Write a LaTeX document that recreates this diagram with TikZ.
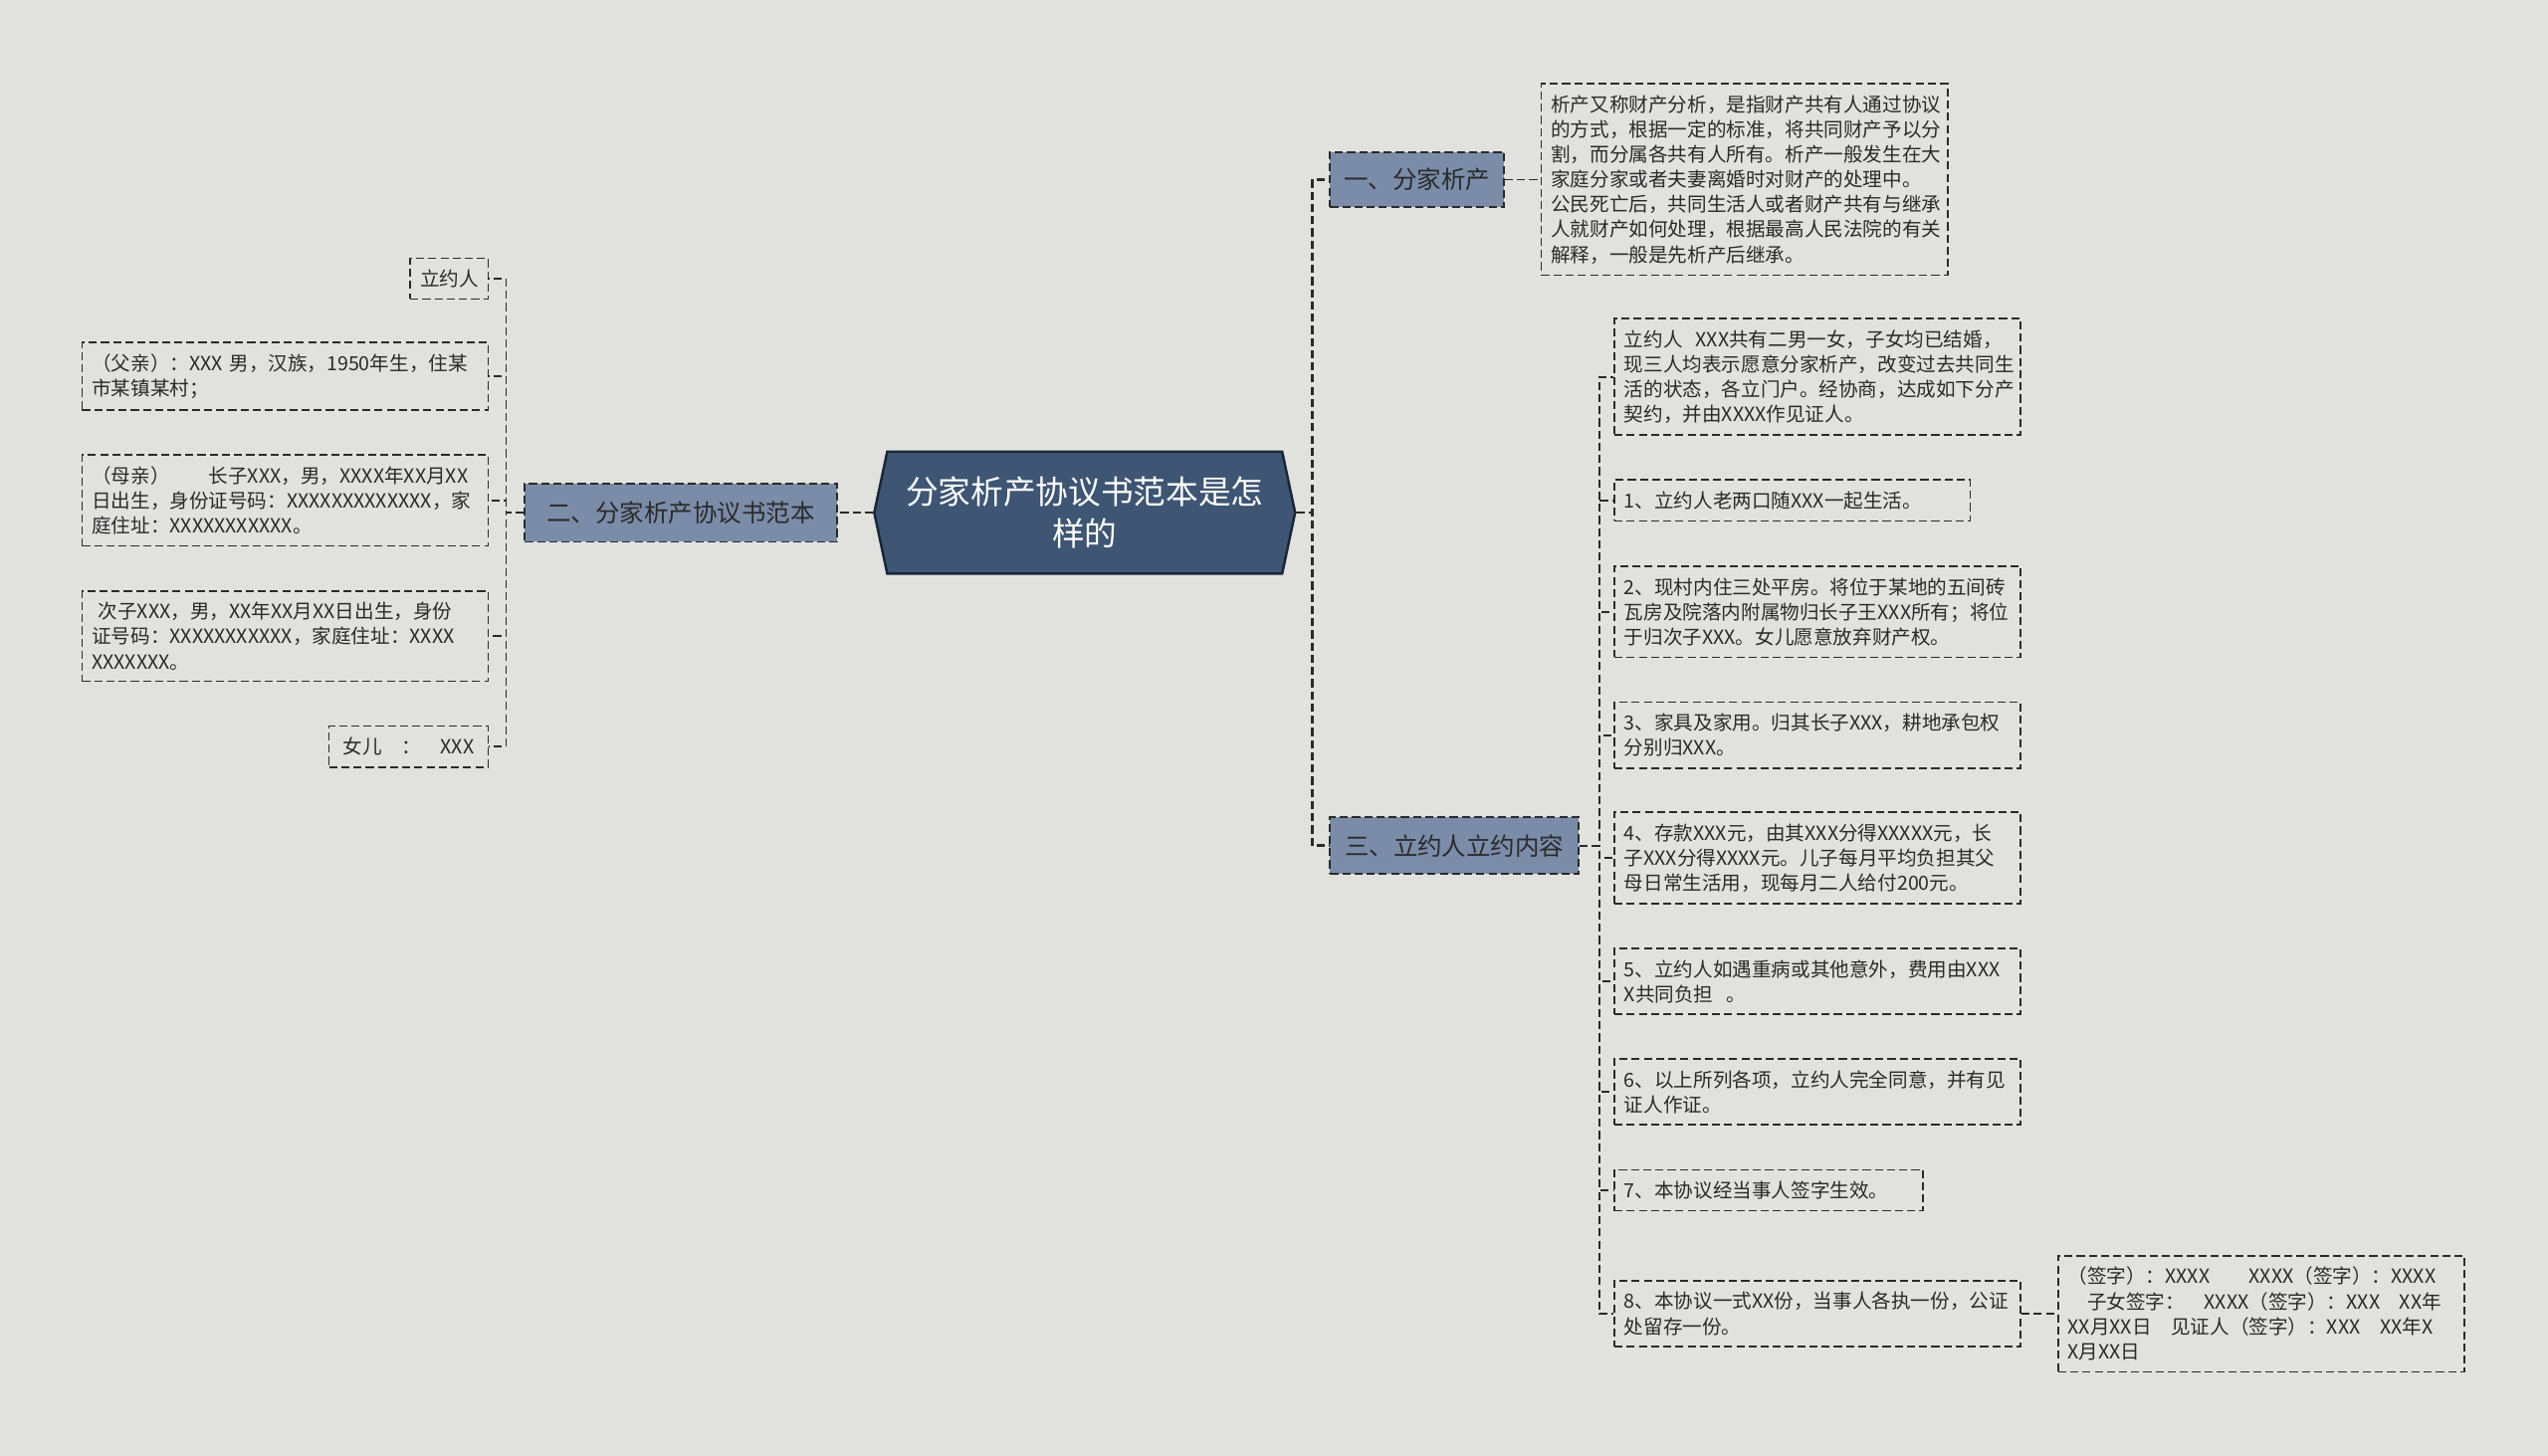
\documentclass[tikz,border=0pt]{standalone}
\usepackage{fontspec}
\setmainfont{Noto Sans CJK SC}
\usetikzlibrary{shapes.symbols}

\definecolor{bgcol}{HTML}{E1E2DE}
\definecolor{rootcol}{HTML}{3E5574}
\definecolor{rootline}{HTML}{1B2638}
\definecolor{branchcol}{HTML}{7A8CA8}
\definecolor{inkcol}{HTML}{2A2A2A}

\begin{document}
\begin{tikzpicture}[x=1pt, y=-1pt,
  link/.style={draw=inkcol, dash pattern=on 5pt off 2.5pt, line width=1.1pt},
  rootlink/.style={link, line width=1.7pt},
  root/.style={signal, signal to=west and east, signal pointer angle=156,
    fill=rootcol, draw=rootline, line width=1.5pt, minimum width=259pt,
    minimum height=75pt, text=white, align=center, inner sep=2pt,
    font=\fontsize{20}{26}\selectfont},
  branch/.style={rectangle, fill=branchcol, draw=inkcol,
    dash pattern=on 5pt off 2.5pt, line width=1.1pt, text=inkcol, inner sep=0pt,
    font=\fontsize{15}{18}\selectfont},
  note/.style={rectangle, draw=inkcol, dash pattern=on 5pt off 2.5pt,
    line width=1pt, text=inkcol, align=left, inner xsep=6pt, inner ysep=7pt,
    font=\fontsize{12}{15.4}\selectfont},
  wide/.style={note, text width=238pt}
]
   % Sizes
   \pgfmathsetmacro{\rightcol}{993}
   \pgfmathsetmacro{\leftcol}{301}

   % paper
   \fill[bgcol] (0,0) rectangle (1568,896);
   \useasboundingbox (0,0) rectangle (1568,896);

   % root and branches
   \node[root] (root) at (667.5, 315.5) {分家析产协议书范本是怎\\样的};
   \node[branch, minimum width=107pt, minimum height=34pt] (one) at (872, 110.5) {一、分家析产};
   \node[branch, minimum width=192pt, minimum height=36pt] (two) at (419, 315.5) {二、分家析产协议书范本};
   \node[branch, minimum width=153pt, minimum height=35pt] (three) at (895, 520.5) {三、立约人立约内容};

   % notes of the first branch
   \node[wide, anchor=west] (defn) at (948, 110.5) {析产又称财产分析，是指财产共有人通过协议\\的方式，根据一定的标准，将共同财产予以分\\割，而分属各共有人所有。析产一般发生在大\\家庭分家或者夫妻离婚时对财产的处理中。\\公民死亡后，共同生活人或者财产共有与继承\\人就财产如何处理，根据最高人民法院的有关\\解释，一般是先析产后继承。};

   % notes of the second branch
   \node[note, anchor=east] (lyr) at (\leftcol, 171.5) {立约人};
   \node[wide, anchor=east] (fa) at (\leftcol, 231.5) {（父亲）：XXX~男，汉族，1950年生，住某\\市某镇某村；};
   \node[wide, anchor=east] (mo) at (\leftcol, 308) {（母亲）　　长子XXX，男，XXXX年XX月XX\\日出生，身份证号码：XXXXXXXXXXXXX，家\\庭住址：XXXXXXXXXXX。};
   \node[wide, anchor=east] (son) at (\leftcol, 391.5) {~次子XXX，男，XX年XX月XX日出生，身份\\证号码：XXXXXXXXXXX，家庭住址：XXXX\\XXXXXXX。};
   \node[note, anchor=east, minimum width=98pt] (dau) at (\leftcol, 459.5) {女儿　：　XXX};

   % notes of the third branch
   \node[wide, anchor=west] (pa) at (\rightcol, 232) {立约人~~XXX共有二男一女，子女均已结婚，\\现三人均表示愿意分家析产，改变过去共同生\\活的状态，各立门户。经协商，达成如下分产\\契约，并由XXXX作见证人。};
   \node[note, anchor=west, text width=207pt] (p1) at (\rightcol, 308) {1、立约人老两口随XXX一起生活。};
   \node[wide, anchor=west] (p2) at (\rightcol, 376.5) {2、现村内住三处平房。将位于某地的五间砖\\瓦房及院落内附属物归长子王XXX所有；将位\\于归次子XXX。女儿愿意放弃财产权。};
   \node[wide, anchor=west] (p3) at (\rightcol, 452.5) {3、家具及家用。归其长子XXX，耕地承包权\\分别归XXX。};
   \node[wide, anchor=west] (p4) at (\rightcol, 528) {4、存款XXX元，由其XXX分得XXXXX元，长\\子XXX分得XXXX元。儿子每月平均负担其父\\母日常生活用，现每月二人给付200元。};
   \node[wide, anchor=west] (p5) at (\rightcol, 604) {5、立约人如遇重病或其他意外，费用由XXX\\X共同负担~~。};
   \node[wide, anchor=west] (p6) at (\rightcol, 672) {6、以上所列各项，立约人完全同意，并有见\\证人作证。};
   \node[note, anchor=west, text width=178pt] (p7) at (\rightcol, 732.5) {7、本协议经当事人签字生效。};
   \node[wide, anchor=west] (p8) at (\rightcol, 808.5) {8、本协议一式XX份，当事人各执一份，公证\\处留存一份。};
   \node[wide, anchor=west] (sign) at (1266, 808.5) {（签字）：XXXX　　XXXX（签字）：XXXX\\　子女签字：　XXXX（签字）：XXX　XX年\\XX月XX日　见证人（签字）：XXX　XX年X\\X月XX日};

   % draw links
   \draw[rootlink] (root.west) -- (two.east);
   \draw[rootlink] (root.east) -- ++(10,0) |- (one.west);
   \draw[rootlink] (root.east) -- ++(10,0) |- (three.west);
   \draw[link] (one.east) -- (defn.west);
   \foreach \n in {lyr,fa,mo,son,dau}
     \draw[link] (two.west) -- ++(-11,0) |- (\n.east);
   \foreach \n in {pa,p1,p2,p3,p4,p5,p6,p7,p8}
     \draw[link] (three.east) -- ++(12,0) |- (\n.west);
   \draw[link] (p8.east) -- (sign.west);
\end{tikzpicture}
\end{document}
